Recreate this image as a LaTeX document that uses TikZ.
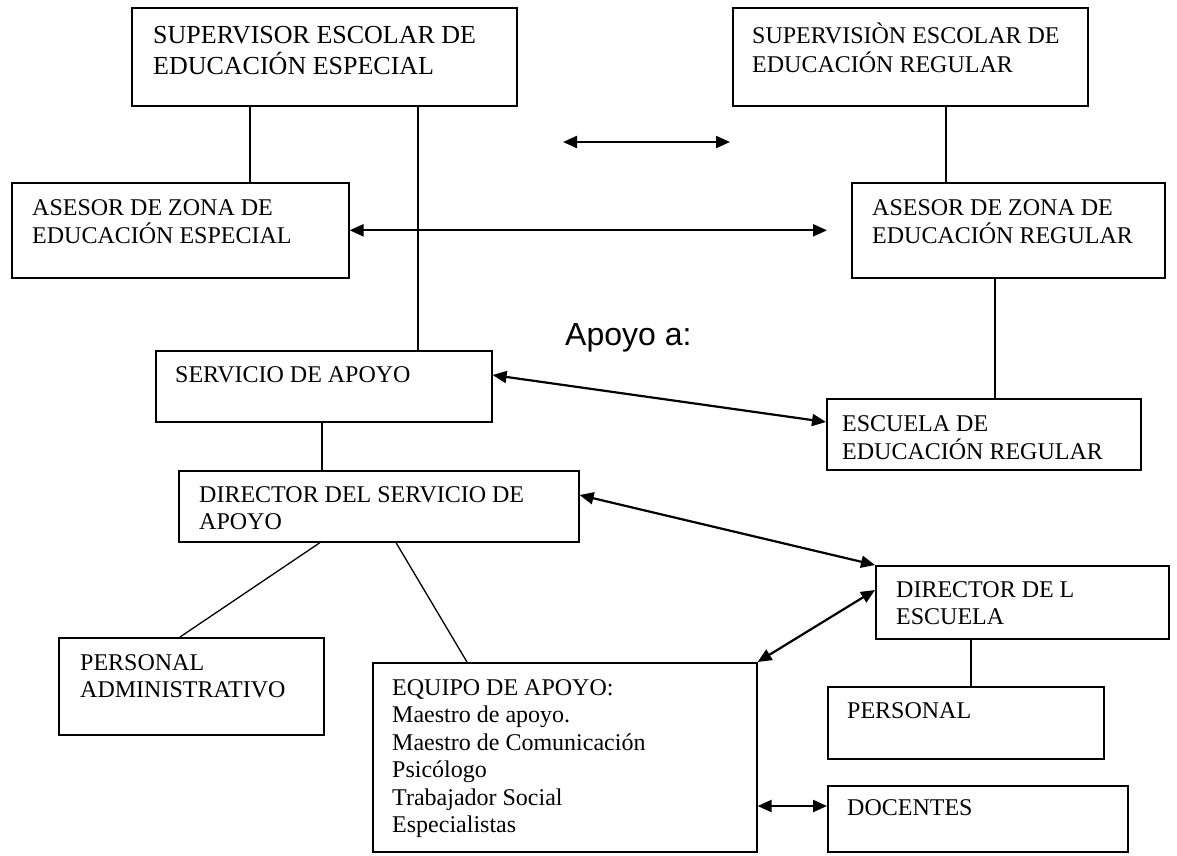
\documentclass[tikz,border=0pt]{standalone}
\usepackage{fontspec}
\setmainfont{Liberation Serif}
\newfontfamily\arialfont{Liberation Sans}
\usetikzlibrary{arrows.meta}
\newcommand{\tlines}[1]{\begin{tabular}[t]{@{}l@{}}#1\end{tabular}}
\begin{document}
\begin{tikzpicture}[x=1pt,y=-1pt,
  box/.style={draw, line width=1.6pt, rectangle, inner sep=0pt, anchor=north west},
  txt/.style={anchor=base west, inner sep=0pt, font=\fontsize{24}{27.5}\selectfont},
  bigtxt/.style={anchor=base west, inner sep=0pt, font=\fontsize{26}{30}\selectfont},
  link/.style={line width=1.3pt},
  biarrow/.style={line width=2.2pt, {Triangle[length=14pt,width=12pt]}-{Triangle[length=14pt,width=12pt]}}
]
\useasboundingbox (0,0) rectangle (1177,855);

% boxes
\node[box, minimum width=385pt, minimum height=98pt] (supesp) at (131,7) {};
\node[box, minimum width=355pt, minimum height=98pt] (supreg) at (732,7) {};
\node[box, minimum width=337pt, minimum height=95pt] (asesp) at (11,182) {};
\node[box, minimum width=313pt, minimum height=95pt] (asreg) at (851,182) {};
\node[box, minimum width=336pt, minimum height=71pt] (serv) at (155,350) {};
\node[box, minimum width=314pt, minimum height=71pt] (esc) at (826,398) {};
\node[box, minimum width=400pt, minimum height=71pt] (dirserv) at (178,470) {};
\node[box, minimum width=293pt, minimum height=73pt] (dirl) at (875,565) {};
\node[box, minimum width=265pt, minimum height=97pt] (padm) at (58,637) {};
\node[box, minimum width=384pt, minimum height=189pt] (equipo) at (372,662) {};
\node[box, minimum width=276pt, minimum height=72pt] (pers) at (827,686) {};
\node[box, minimum width=300pt, minimum height=66pt] (doc) at (827,785) {};

% texts
\node[bigtxt] (tsupesp) at (153,43) {\tlines{SUPERVISOR ESCOLAR DE\\EDUCACIÓN ESPECIAL}};
\node[anchor=base west, inner sep=0pt, font=\fontsize{24}{28.5}\selectfont] (tsupreg) at (752,43) {\tlines{SUPERVISIÒN ESCOLAR DE\\EDUCACIÓN REGULAR}};
\node[txt] (tasesp) at (32,215) {\tlines{ASESOR DE ZONA DE\\EDUCACIÓN ESPECIAL}};
\node[txt] (tasreg) at (872,215) {\tlines{ASESOR DE ZONA DE\\EDUCACIÓN REGULAR}};
\node[txt] (tserv) at (175,382) {SERVICIO DE APOYO};
\node[txt] (tesc) at (842,431) {\tlines{ESCUELA DE\\EDUCACIÓN REGULAR}};
\node[txt] (tdirserv) at (199,502) {\tlines{DIRECTOR DEL SERVICIO DE\\APOYO}};
\node[txt] (tdirl) at (896,597) {\tlines{DIRECTOR DE L\\ESCUELA}};
\node[txt] (tpadm) at (80,670) {\tlines{PERSONAL\\ADMINISTRATIVO}};
\node[txt] (tequipo) at (392,695) {\tlines{EQUIPO DE APOYO:\\Maestro de apoyo.\\Maestro de Comunicación\\Psicólogo\\Trabajador Social\\Especialistas}};
\node[txt] (tpers) at (847,718) {PERSONAL};
\node[txt] (tdoc) at (847,815) {DOCENTES};
\node[anchor=base west, inner sep=0pt, font=\arialfont\fontsize{32}{36}\selectfont] (apoyo) at (565,345) {Apoyo a:};

% free coordinates
\coordinate (fa1) at (563,142);
\coordinate (fa2) at (730,142);
\coordinate (ar1) at (827,0);

% plain links
\draw[link] (supesp.south -| 250,0) -- (asesp.north -| 250,0);
\draw[link] (supesp.south -| 418,0) -- (serv.north -| 418,0);
\draw[link] (supreg.south -| 946,0) -- (asreg.north -| 946,0);
\draw[link] (asreg.south -| 995,0) -- (esc.north -| 995,0);
\draw[link] (serv.south -| 322,0) -- (dirserv.north -| 322,0);
\draw[link] (dirserv.south -| 320,0) -- (padm.north -| 180,0);
\draw[link] (dirserv.south -| 396,0) -- (equipo.north -| 467,0);
\draw[link] (dirl.south -| 971,0) -- (pers.north -| 971,0);

% double arrows
\draw[biarrow] (fa1) -- (fa2);
\draw[biarrow] (asesp.east) -- (asesp.east -| ar1);
\draw[biarrow] ([yshift=-25pt]serv.north east) -- ([yshift=-24pt]esc.north west);
\draw[biarrow] ([yshift=-25pt]dirserv.north east) -- (dirl.north west);
\draw[biarrow] (equipo.north east) -- ([yshift=-25pt]dirl.north west);
\draw[biarrow] (equipo.east |- 0,806) -- (doc.west |- 0,806);
\end{tikzpicture}
\end{document}
